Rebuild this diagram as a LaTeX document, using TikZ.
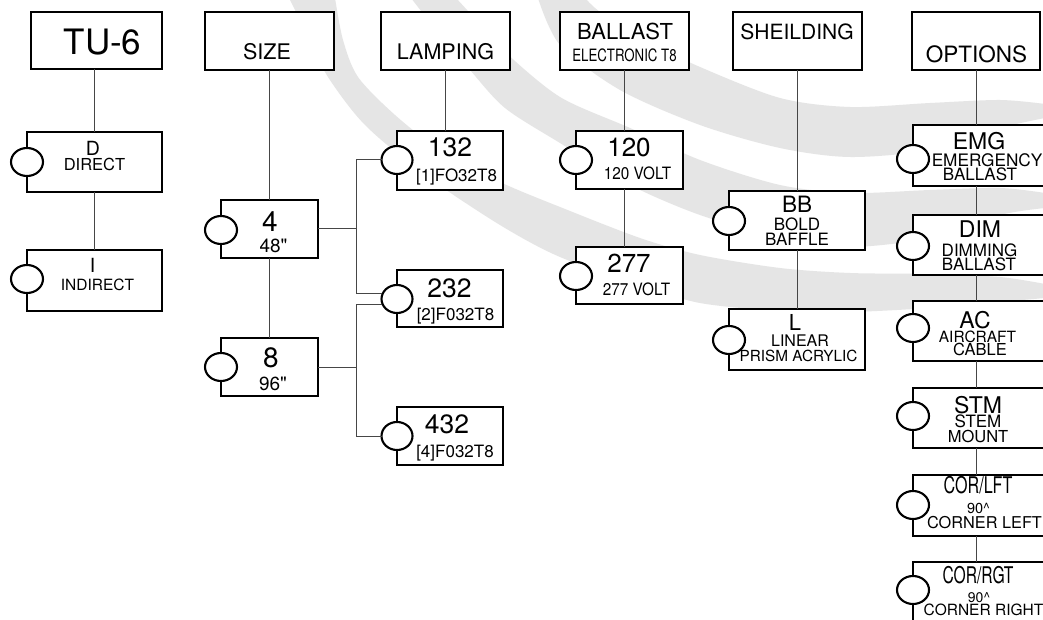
\documentclass[tikz,border=0pt]{standalone}
\usepackage{fontspec}
\setmainfont{TeX Gyre Heros}
\newfontfamily\plainheros{TeX Gyre Heros}
\usepackage{graphicx}
\usetikzlibrary{shapes.geometric,calc}
\newcommand\fsz[1]{\fontsize{#1}{#1}\selectfont}
\definecolor{bandgrey}{RGB}{229,229,229}
\definecolor{conncol}{RGB}{70,70,70}
\begin{document}
\begin{tikzpicture}[x=1pt,y=-1pt,
  box/.style={draw=black, fill=white, line width=2.6pt, anchor=north west, inner sep=0pt, outer sep=0pt},
  knob/.style={ellipse, draw=black, fill=white, line width=2.1pt, minimum width=32pt, minimum height=28pt, inner sep=0pt, outer sep=0pt},
  conn/.style={draw=conncol, line width=1pt},
  tx/.style={anchor=base, inner sep=0pt, outer sep=0pt, text=black}]
\useasboundingbox (0,0) rectangle (1043,620);
\fill[white] (0,0) rectangle (1043,620);
% background bands
\fill[bandgrey] plot[smooth] coordinates {(289,-2) (310,40) (328,77) (365,125) (425,175) (500,225) (560,257) (640,285) (700,303) (780,311) (850,312) (930,308) (1000,302) (1045,298)}
  -- plot[smooth] coordinates {(1045,284) (1000,277) (930,274) (850,273) (780,268) (700,255) (640,238) (560,207) (500,182) (440,150) (395,115) (358,77) (343,40) (335,-2)} -- cycle;
\fill[bandgrey] plot[smooth] coordinates {(411,-2) (440,35) (470,70) (505,108) (560,143) (630,185) (700,215) (780,238) (850,247) (930,238) (1000,215) (1045,208)}
  -- plot[smooth] coordinates {(1045,193) (1000,188) (930,190) (850,193) (780,185) (700,160) (630,128) (560,97) (505,52) (478,22) (456,-2)} -- cycle;
\fill[bandgrey] plot[smooth] coordinates {(538,-2) (560,45) (620,90) (700,125) (780,148) (850,157) (930,150) (1000,128) (1045,118)}
  -- plot[smooth] coordinates {(1045,104) (1000,100) (930,103) (850,107) (780,98) (700,67) (640,38) (600,12) (585,-2)} -- cycle;

% header boxes
\node[box, minimum width=131pt, minimum height=57pt] (hTU) at (31,12) {};
\node[box, minimum width=129pt, minimum height=58pt] (hSIZE) at (205,12) {};
\node[box, minimum width=129pt, minimum height=58pt] (hLAMP) at (381,12) {};
\node[box, minimum width=129pt, minimum height=58pt] (hBALL) at (560,12) {};
\node[box, minimum width=129pt, minimum height=58pt] (hSHE) at (733,12) {};
\node[box, minimum width=128pt, minimum height=58pt] (hOPT) at (912,12) {};
% option boxes
\node[box, minimum width=135pt, minimum height=60pt] (bD) at (27,132) {};
\node[box, minimum width=135pt, minimum height=61pt] (bI) at (27,250) {};
\node[box, minimum width=97pt, minimum height=58pt] (b4) at (221,200) {};
\node[box, minimum width=97pt, minimum height=58pt] (b8) at (221,338) {};
\node[box, minimum width=106pt, minimum height=59pt] (b132) at (397,131) {};
\node[box, minimum width=106pt, minimum height=57pt] (b232) at (397,270) {};
\node[box, minimum width=106pt, minimum height=58pt] (b432) at (397,407) {};
\node[box, minimum width=107pt, minimum height=58pt] (b120) at (576,131) {};
\node[box, minimum width=107pt, minimum height=57pt] (b277) at (576,247) {};
\node[box, minimum width=136pt, minimum height=59pt] (bBB) at (729,191) {};
\node[box, minimum width=136pt, minimum height=61pt] (bL) at (729,309) {};
\node[box, minimum width=135pt, minimum height=61pt] (bEMG) at (913,125) {};
\node[box, minimum width=135pt, minimum height=60pt] (bDIM) at (913,215) {};
\node[box, minimum width=135pt, minimum height=60pt] (bAC) at (913,301) {};
\node[box, minimum width=135pt, minimum height=60pt] (bSTM) at (913,388) {};
\node[box, minimum width=135pt, minimum height=61pt] (bCL) at (913,475) {};
\node[box, minimum width=135pt, minimum height=62pt] (bCR) at (913,562) {};

% connectors
\coordinate (jx) at (356,0);
\draw[conn] (bD.north |- hTU.south) -- (bD.north);
\draw[conn] (bD.south) -- (bI.north);
\draw[conn] (hSIZE.south) -- (hSIZE.south |- b4.north);
\draw[conn] (b4.south) -- (b8.north);
\draw[conn] (hLAMP.south) -- (hLAMP.south |- b132.north);
\draw[conn] (hBALL.south) -- (hBALL.south |- b120.north);
\draw[conn] (hBALL.south |- b120.south) -- (hBALL.south |- b277.north);
\draw[conn] (hSHE.south) -- (hSHE.south |- bBB.north);
\draw[conn] (hSHE.south |- bBB.south) -- (hSHE.south |- bL.north);
\draw[conn] (hOPT.south) -- (hOPT.south |- bEMG.north);
\draw[conn] (hOPT.south |- bEMG.south) -- (hOPT.south |- bDIM.north);
\draw[conn] (hOPT.south |- bDIM.south) -- (hOPT.south |- bAC.north);
\draw[conn] (hOPT.south |- bAC.south) -- (hOPT.south |- bSTM.north);
\draw[conn] (hOPT.south |- bSTM.south) -- (hOPT.south |- bCL.north);
\draw[conn] (hOPT.south |- bCL.south) -- (hOPT.south |- bCR.north);

% knobs
\node[knob] (kD) at (27,162) {};
\node[knob] (kI) at (27,279) {};
\node[knob] (k4) at (221,230) {};
\node[knob] (k8) at (221,367) {};
\node[knob, minimum width=31pt] (k132) at (397,160) {};
\node[knob, minimum width=31pt] (k232) at (397,299) {};
\node[knob, minimum width=31pt] (k432) at (397,436) {};
\node[knob] (k120) at (576,160) {};
\node[knob] (k277) at (576,276) {};
\node[knob] (kBB) at (729,221) {};
\node[knob] (kL) at (729,340) {};
\node[knob] (kEMG) at (913,159) {};
\node[knob] (kDIM) at (913,246) {};
\node[knob] (kAC) at (913,328) {};
\node[knob] (kSTM) at (913,416) {};
\node[knob] (kCL) at (913,505) {};
\node[knob] (kCR) at (913,590) {};

% branch connectors (size -> lamping)
\draw[conn] (b4.east) -- (b4.east -| jx);
\draw[conn] (b8.east) -- (b8.east -| jx);
\draw[conn] (k132.west) -| ($(jx |- k232.center)+(0,-6)$) -- ($(k232.west)+(0,-6)$);
\draw[conn] ($(k232.west)+(0,5)$) -| (jx |- k432.center) -- (k432.west);

% texts
\node[tx, font=\fsz{35}] (tTU) at (102.5,55) {TU-6};
\node[tx, font=\fsz{21.5}] (tSIZE) at (267,60) {SIZE};
\node[tx, font=\fsz{21.5}] (tLAMP) at (445.5,60) {LAMPING};
\node[tx, font=\fsz{22}] (tBALL) at (625,40) {BALLAST};
\node[tx, font=\fsz{17}] (tELEC) at (624.5,62) {\scalebox{0.78}[1]{ELECTRONIC T8}};
\node[tx, font=\fsz{21}] (tSHE) at (797,40) {SHEILDING};
\node[tx, font=\fsz{22.5}] (tOPT) at (976.5,63) {OPTIONS};

\node[tx, font=\fsz{19.5}] (tD1) at (93,156) {D};
\node[tx, font=\fsz{16.5}] (tD2) at (94.5,171) {DIRECT};
\node[tx, font=\fsz{19.5}] (tI1) at (92.5,272) {I};
\node[tx, font=\fsz{15.5}] (tI2) at (97.5,290) {INDIRECT};

\node[tx, font=\fsz{28}] (t41) at (270,232) {4};
\node[tx, font=\plainheros\fsz{19}] (t42) at (273.5,252) {48"};
\node[tx, font=\fsz{28}] (t81) at (271,367) {8};
\node[tx, font=\plainheros\fsz{19}] (t82) at (273,390) {96"};

\node[tx, font=\fsz{26.5}] (t1321) at (450,157) {132};
\node[tx, font=\fsz{17}] (t1322) at (456.5,182) {[1]FO32T8};
\node[tx, font=\fsz{26.5}] (t2321) at (449.5,297) {232};
\node[tx, font=\fsz{17}] (t2322) at (455.5,320) {[2]F032T8};
\node[tx, font=\fsz{26.5}] (t4321) at (447,433) {432};
\node[tx, font=\fsz{17}] (t4322) at (455,457) {[4]F032T8};

\node[tx, font=\fsz{26}] (t1201) at (629,157) {120};
\node[tx, font=\fsz{17}] (t1202) at (637.5,180) {\scalebox{0.9}[1]{120 VOLT}};
\node[tx, font=\fsz{26}] (t2771) at (629,272) {277};
\node[tx, font=\fsz{17}] (t2772) at (636.5,295) {\scalebox{0.9}[1]{277 VOLT}};

\node[tx, font=\fsz{22.5}] (tBB1) at (797,213) {BB};
\node[tx, font=\fsz{17}] (tBB2) at (797,230) {BOLD};
\node[tx, font=\fsz{17}] (tBB3) at (797,245) {BAFFLE};
\node[tx, font=\fsz{22}] (tL1) at (795,330) {L};
\node[tx, font=\fsz{16}] (tL2) at (800,346) {LINEAR};
\node[tx, font=\fsz{15.3}] (tL3) at (798.5,361) {PRISM ACRYLIC};

\node[tx, font=\fsz{23}] (tEMG1) at (979,150) {EMG};
\node[tx, font=\fsz{17.2}] (tEMG2) at (987,167) {EMERGENCY};
\node[tx, font=\fsz{17}] (tEMG3) at (980,181) {BALLAST};
\node[tx, font=\fsz{23}] (tDIM1) at (980,238) {DIM};
\node[tx, font=\fsz{17}] (tDIM2) at (979.5,256) {DIMMING};
\node[tx, font=\fsz{17}] (tDIM3) at (979,270) {BALLAST};
\node[tx, font=\fsz{23}] (tAC1) at (975,328) {AC};
\node[tx, font=\fsz{15.5}] (tAC2) at (977.5,342) {AIRCRAFT};
\node[tx, font=\fsz{16.5}] (tAC3) at (980,355) {CABLE};
\node[tx, font=\fsz{23}] (tSTM1) at (978,413) {STM};
\node[tx, font=\fsz{17}] (tSTM2) at (978,427) {STEM};
\node[tx, font=\fsz{16.5}] (tSTM3) at (978,442) {MOUNT};
\node[tx, font=\fsz{23}] (tCL1) at (978,493) {\scalebox{0.7}[1]{COR/LFT}};
\node[tx, font=\fsz{14.5}] (tCL2) at (978.5,513) {90\textasciicircum};
\node[tx, font=\fsz{16.3}] (tCL3) at (984.5,528) {CORNER LEFT};
\node[tx, font=\fsz{23}] (tCR1) at (978,583) {\scalebox{0.68}[1]{COR/RGT}};
\node[tx, font=\fsz{14}] (tCR2) at (979,602) {90\textasciicircum};
\node[tx, font=\fsz{15.5}] (tCR3) at (983.5,615) {CORNER RIGHT};
\end{tikzpicture}
\end{document}
